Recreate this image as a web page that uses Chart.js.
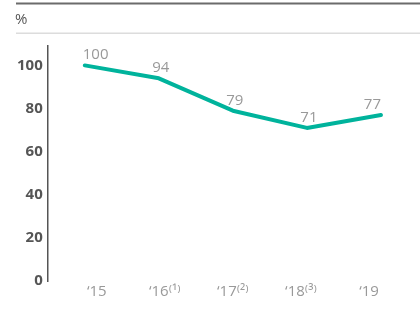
<!DOCTYPE html>
<html><head><meta charset="utf-8">
<script src="https://cdn.jsdelivr.net/npm/chart.js@4"></script>
<style>html,body{margin:0;padding:0;background:#fff}#wrap{width:420px;height:324px;position:relative}</style>
</head><body><div id="wrap"><canvas id="c" width="420" height="324"></canvas></div>
<script>
const categories = ["\u201815", "\u201816\u207D\u00B9\u207E", "\u201817\u207D\u00B2\u207E", "\u201818\u207D\u00B3\u207E", "\u201819"];
const values = [100, 94, 79, 71, 77];
const yTicks = [0, 20, 40, 60, 80, 100];
const unitLabel = "%";

const header = {
  id: 'header',
  beforeDraw(chart) {
    const ctx = chart.ctx;
    ctx.save();
    ctx.fillStyle = '#6b6b6b';
    ctx.fillRect(16, 2.5, 404, 2);
    ctx.fillStyle = '#dcdcdc';
    ctx.fillRect(16, 32.5, 404, 1.5);
    ctx.fillStyle = '#555';
    ctx.font = '15px "Open Sans", sans-serif';
    ctx.textBaseline = 'middle';
    ctx.fillText(unitLabel, 15, 20);
    ctx.restore();
  }
};
const dataLabels = {
  id: 'dataLabels',
  afterDatasetsDraw(chart) {
    const ctx = chart.ctx;
    const meta = chart.getDatasetMeta(0);
    ctx.save();
    ctx.fillStyle = '#999';
    ctx.font = '15px "Open Sans", sans-serif';
    ctx.textBaseline = 'alphabetic';
    const n = meta.data.length;
    meta.data.forEach((p, i) => {
      let x = p.x;
      if (i === 0) { ctx.textAlign = 'left'; x = p.x - 2; }
      else if (i === n - 1) { ctx.textAlign = 'right'; }
      else { ctx.textAlign = 'center'; x = p.x + 2; }
      ctx.fillText(String(values[i]), x, p.y - 6);
    });
    ctx.restore();
  }
};

new Chart(document.getElementById('c'), {
  type: 'line',
  data: {
    labels: categories,
    datasets: [{
      data: values,
      borderColor: '#00b39c',
      borderWidth: 4,
      pointRadius: 0,
      tension: 0,
      fill: false,
      borderCapStyle: 'round',
      borderJoinStyle: 'round'
    }]
  },
  options: {
    responsive: false,
    animation: false,
    layout: { padding: { top: 46, right: 2, left: 12, bottom: 21 } },
    plugins: { legend: { display: false }, tooltip: { enabled: false } },
    scales: {
      x: {
        offset: true,
        display: false
      },
      xl: {
        type: 'linear',
        position: 'bottom',
        min: -0.72, max: 4.72,
        afterBuildTicks(axis) { axis.ticks = categories.map((c, i) => ({ value: i })); },
        grid: { display: false, drawTicks: false },
        border: { display: false },
        ticks: {
          callback: (v) => categories[v],
          color: '#999', font: { family: '"Open Sans", sans-serif', size: 15 }, padding: 2, maxRotation: 0, autoSkip: false
        }
      },
      y: {
        min: 0, max: 109,
        afterBuildTicks(axis) { axis.ticks = yTicks.map(v => ({ value: v })); },
        grid: { display: false, drawTicks: false },
        border: { display: true, color: '#555', width: 1.5 },
        ticks: { color: '#555', font: { family: '"Open Sans", sans-serif', size: 15, weight: 'bold' }, padding: 5 }
      }
    }
  },
  plugins: [header, dataLabels]
});
</script></body></html>
